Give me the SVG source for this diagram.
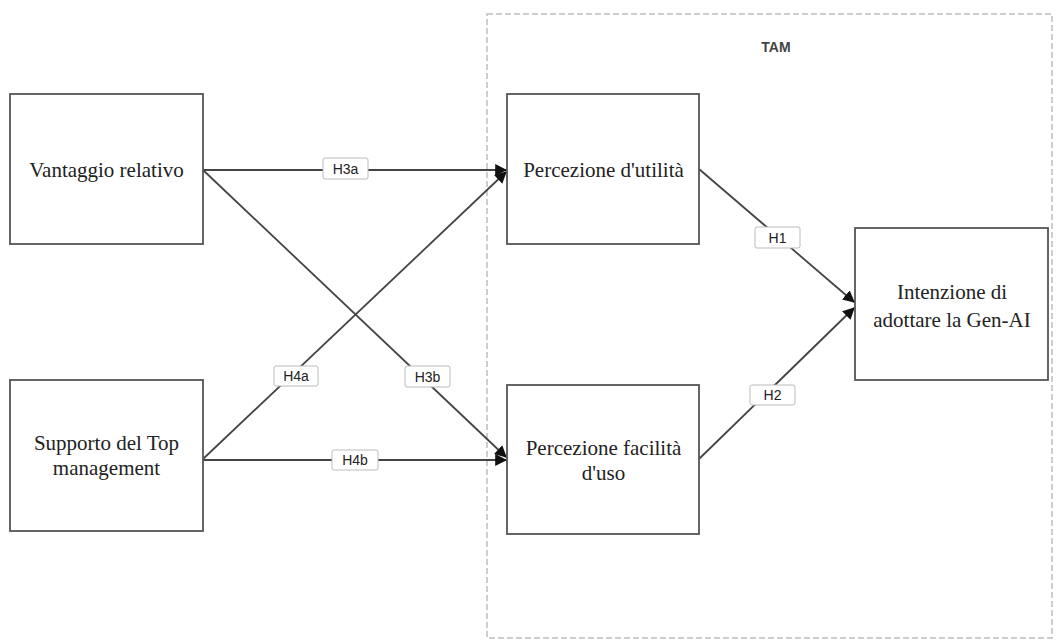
<svg xmlns="http://www.w3.org/2000/svg" width="1060" height="642" viewBox="0 0 1060 642">
<style>
.node{fill:#fff;stroke:#555;stroke-width:1.8}
.nt{font-family:"Liberation Serif",serif;font-size:21px;fill:#222;text-anchor:middle}
.edge{stroke:#444;stroke-width:1.8;fill:none}
.lb{fill:#fff;stroke:#bbb;stroke-width:1}
.lt{font-family:"Liberation Sans",sans-serif;font-size:14px;fill:#222;text-anchor:middle}
</style>
<defs>
<marker id="ah2" viewBox="0 0 10 10" refX="9" refY="5" markerWidth="12" markerHeight="12" orient="auto" markerUnits="userSpaceOnUse">
<path d="M0,0 L10,5 L0,10 z" fill="#111"/>
</marker>
</defs>
<rect width="1060" height="642" fill="#fff"/>
<g id="tam">
<rect x="487" y="14" width="565" height="624" fill="none" stroke="#bdbdbd" stroke-width="1.5" stroke-dasharray="6,3"/>
<text x="776" y="52" font-family="Liberation Sans,sans-serif" font-size="14" font-weight="bold" fill="#444" text-anchor="middle">TAM</text>
</g>
<g id="connectors">
<line class="edge" x1="203" y1="170" x2="506" y2="170" marker-end="url(#ah2)"/>
<line class="edge" x1="203" y1="170" x2="506" y2="457" marker-end="url(#ah2)"/>
<line class="edge" x1="203" y1="459" x2="506" y2="172" marker-end="url(#ah2)"/>
<line class="edge" x1="203" y1="460" x2="506" y2="460" marker-end="url(#ah2)"/>
<line class="edge" x1="699" y1="169" x2="854" y2="302" marker-end="url(#ah2)"/>
<line class="edge" x1="699" y1="459" x2="854" y2="308" marker-end="url(#ah2)"/>
<g id="l-h3a"><rect class="lb" x="323" y="158" width="45" height="21" rx="2"/><text class="lt" x="345.5" y="174">H3a</text></g>
<g id="l-h4a"><rect class="lb" x="274" y="366" width="44" height="20" rx="2"/><text class="lt" x="296" y="381">H4a</text></g>
<g id="l-h3b"><rect class="lb" x="405" y="366" width="45" height="21" rx="2"/><text class="lt" x="427.5" y="382">H3b</text></g>
<g id="l-h4b"><rect class="lb" x="332" y="450" width="46" height="20" rx="2"/><text class="lt" x="355" y="465">H4b</text></g>
<g id="l-h1"><rect class="lb" x="755" y="227" width="45" height="21" rx="2"/><text class="lt" x="777.5" y="243">H1</text></g>
<g id="l-h2"><rect class="lb" x="750" y="385" width="45" height="20" rx="2"/><text class="lt" x="772.5" y="400">H2</text></g>
</g>
<g id="n-vantaggio"><rect class="node" x="10" y="94" width="193" height="150"/><text class="nt" x="106.5" y="177">Vantaggio relativo</text></g>
<g id="n-supporto"><rect class="node" x="10" y="380" width="193" height="151"/><text class="nt" x="106.5" y="450">Supporto del Top</text><text class="nt" x="106.5" y="475">management</text></g>
<g id="n-utilita"><rect class="node" x="507" y="94" width="192" height="150"/><text class="nt" x="603.5" y="177">Percezione d'utilità</text></g>
<g id="n-facilita"><rect class="node" x="507" y="385" width="192" height="149"/><text class="nt" x="603.5" y="455">Percezione facilità</text><text class="nt" x="603.5" y="480">d'uso</text></g>
<g id="n-intenzione"><rect class="node" x="855" y="228" width="193" height="152"/><text class="nt" x="952" y="299">Intenzione di</text><text class="nt" x="952" y="327">adottare la Gen-AI</text></g>
</svg>
